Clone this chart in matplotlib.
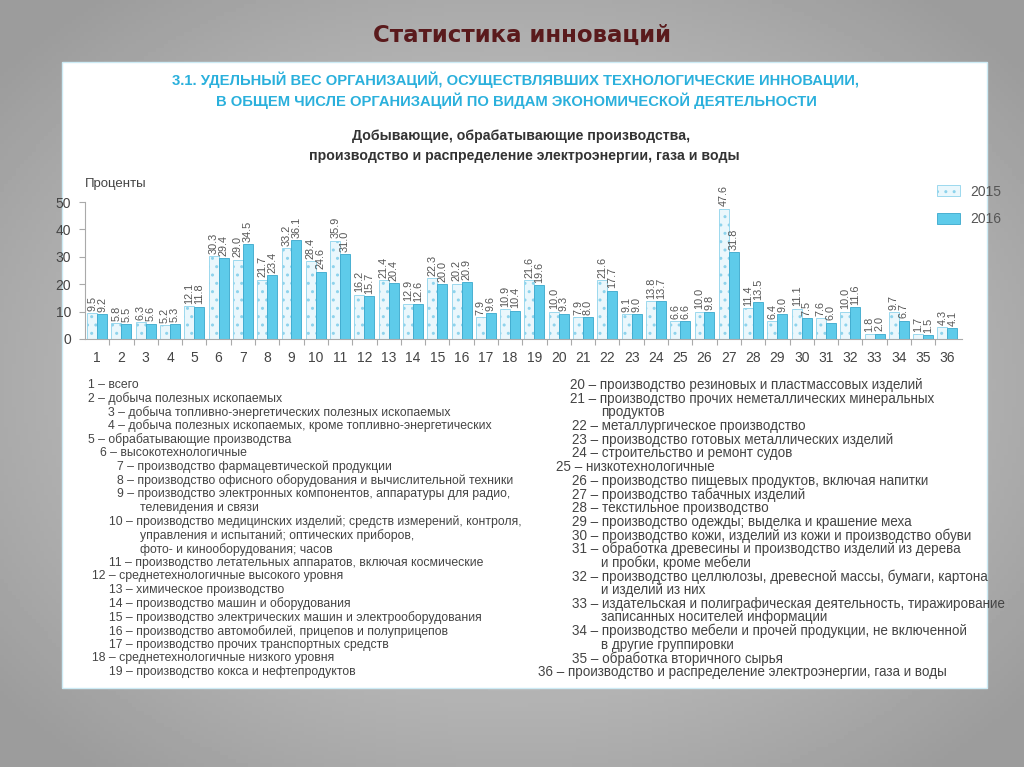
import numpy as np
import matplotlib
matplotlib.use('Agg')
import matplotlib.pyplot as plt
from matplotlib.patches import Rectangle

# data
categories = [str(i) for i in range(1, 37)]
share_2015 = [9.5, 5.8, 6.3, 5.2, 12.1, 30.3, 29.0, 21.7, 33.2, 28.4, 35.9, 16.2,
              21.4, 12.9, 22.3, 20.2, 7.9, 10.9, 21.6, 10.0, 7.9, 21.6, 9.1, 13.8,
              6.6, 10.0, 47.6, 11.4, 6.4, 11.1, 7.6, 10.0, 1.8, 9.7, 1.7, 4.3]
share_2016 = [9.2, 5.5, 5.6, 5.3, 11.8, 29.4, 34.5, 23.4, 36.1, 24.6, 31.0, 15.7,
              20.4, 12.6, 20.0, 20.9, 9.6, 10.4, 19.6, 9.3, 8.0, 17.7, 9.0, 13.7,
              6.6, 9.8, 31.8, 13.5, 9.0, 7.5, 6.0, 11.6, 2.0, 6.7, 1.5, 4.1]
series_labels = ['2015', '2016']

left_notes = [
    (88, "1 – всего"),
    (88, "2 – добыча полезных ископаемых"),
    (108, "3 – добыча топливно-энергетических полезных ископаемых"),
    (108, "4 – добыча полезных ископаемых, кроме топливно-энергетических"),
    (88, "5 – обрабатывающие производства"),
    (100, "6 – высокотехнологичные"),
    (117, "7 – производство фармацевтической продукции"),
    (117, "8 – производство офисного оборудования и вычислительной техники"),
    (117, "9 – производство электронных компонентов, аппаратуры для радио,"),
    (140, "телевидения и связи"),
    (109, "10 – производство медицинских изделий; средств измерений, контроля,"),
    (140, "управления и испытаний; оптических приборов,"),
    (140, "фото- и кинооборудования; часов"),
    (109, "11 – производство летательных аппаратов, включая космические"),
    (92, "12 – среднетехнологичные высокого уровня"),
    (109, "13 – химическое производство"),
    (109, "14 – производство машин и оборудования"),
    (109, "15 – производство электрических машин и электрооборудования"),
    (109, "16 – производство автомобилей, прицепов и полуприцепов"),
    (109, "17 – производство прочих транспортных средств"),
    (92, "18 – среднетехнологичные низкого уровня"),
    (109, "19 – производство кокса и нефтепродуктов"),
]
right_notes = [
    (570, "20 – производство резиновых и пластмассовых изделий"),
    (570, "21 – производство прочих неметаллических минеральных"),
    (601, "продуктов"),
    (572, "22 – металлургическое производство"),
    (572, "23 – производство готовых металлических изделий"),
    (572, "24 – строительство и ремонт судов"),
    (556, "25 – низкотехнологичные"),
    (572, "26 – производство пищевых продуктов, включая напитки"),
    (572, "27 – производство табачных изделий"),
    (572, "28 – текстильное производство"),
    (572, "29 – производство одежды; выделка и крашение меха"),
    (572, "30 – производство кожи, изделий из кожи и производство обуви"),
    (572, "31 – обработка древесины и производство изделий из дерева"),
    (601, "и пробки, кроме мебели"),
    (572, "32 – производство целлюлозы, древесной массы, бумаги, картона"),
    (601, "и изделий из них"),
    (572, "33 – издательская и полиграфическая деятельность, тиражирование"),
    (601, "записанных носителей информации"),
    (572, "34 – производство мебели и прочей продукции, не включенной"),
    (601, "в другие группировки"),
    (572, "35 – обработка вторичного сырья"),
    (538, "36 – производство и распределение электроэнергии, газа и воды"),
]

FONT = 'Liberation Sans'

W, H = 1024, 767
fig = plt.figure(figsize=(W / 100, H / 100), dpi=100)

def fx(px):
    return px / W

def fy(py):
    return 1 - py / H

# slide background: grey radial gradient
bg = fig.add_axes([0, 0, 1, 1])
yy, xx = np.mgrid[0:H:4, 0:W:4]
r = np.sqrt(((xx - W / 2) / (W / 2)) ** 2 + ((yy - H / 2) / (H / 2)) ** 2)
bg.imshow(0.86 - 0.25 * np.clip(r / 1.3, 0, 1), cmap='gray', vmin=0, vmax=1,
          extent=[0, 1, 0, 1], aspect='auto')
bg.set_axis_off()
bg.set_zorder(-10)

# white panel
fig.patches.append(Rectangle((fx(62), fy(688)), fx(987 - 62), (688 - 62) / H,
                             transform=fig.transFigure, facecolor='white',
                             edgecolor='#cdebf5', linewidth=1, zorder=-5))

fig.text(0.51, fy(35), 'Статистика инноваций', ha='center', va='center',
         fontsize=16.5, fontweight='bold', color='#5a1a1c', family='DejaVu Sans')

title_kw = dict(ha='center', va='center', fontsize=10.6, fontweight='bold',
                color='#2ab0dc', family=FONT)
fig.text(fx(516), fy(80), '3.1. УДЕЛЬНЫЙ ВЕС ОРГАНИЗАЦИЙ, ОСУЩЕСТВЛЯВШИХ ТЕХНОЛОГИЧЕСКИЕ ИННОВАЦИИ,', **title_kw)
fig.text(fx(516), fy(101), 'В ОБЩЕМ ЧИСЛЕ ОРГАНИЗАЦИЙ ПО ВИДАМ ЭКОНОМИЧЕСКОЙ ДЕЯТЕЛЬНОСТИ', **title_kw)
sub_kw = dict(ha='center', va='center', fontsize=10.2, fontweight='bold',
              color='#333333', family=FONT)
fig.text(fx(521), fy(136), 'Добывающие, обрабатывающие производства,', **sub_kw)
fig.text(fx(524), fy(156), 'производство и распределение электроэнергии, газа и воды', **sub_kw)
fig.text(fx(116), fy(184), 'Проценты', ha='center', va='center', fontsize=9.5,
         color='#444444', family=FONT)

# chart
ax = fig.add_axes([fx(85), fy(339), fx(962 - 85), (339 - 202) / H])
x = np.arange(1, len(categories) + 1)
bw = 0.41
b1 = ax.bar(x - bw / 2, share_2015, bw, facecolor='#eaf7fc', edgecolor='#8ed3ec',
            hatch='..', linewidth=0.6, label=series_labels[0])
b2 = ax.bar(x + bw / 2, share_2016, bw, facecolor='#5ecbea', edgecolor='#3aa8cc',
            linewidth=0.6, label=series_labels[1])
for bars, vals in ((b1, share_2015), (b2, share_2016)):
    for rect, v in zip(bars, vals):
        ax.text(rect.get_x() + rect.get_width() / 2, v + 0.8, f'{v:.1f}',
                rotation=90, ha='center', va='bottom', fontsize=7.8,
                color='#555555', family=FONT, clip_on=False)

ax.set_xlim(0.5, 36.6)
ax.set_ylim(0, 50)
ax.set_yticks(range(0, 51, 10))
ax.set_xticks(x)
ax.set_xticklabels(categories)
ax.set_xticks(np.arange(1.5, 36.5, 1), minor=True)
ax.tick_params(axis='x', which='major', length=0, pad=9, labelsize=10, labelcolor='#444444')
ax.tick_params(axis='x', which='minor', length=4, color='#aaaaaa', width=0.8)
ax.tick_params(axis='y', length=4, color='#aaaaaa', labelsize=10, labelcolor='#444444', pad=6)
for lbl in ax.get_xticklabels() + ax.get_yticklabels():
    lbl.set_family(FONT)
for side in ('top', 'right'):
    ax.spines[side].set_visible(False)
for side in ('left', 'bottom'):
    ax.spines[side].set_color('#aaaaaa')
    ax.spines[side].set_linewidth(0.8)
ax.patch.set_alpha(0)

fig.legend(handles=[b1, b2], loc='upper left', bbox_to_anchor=(fx(924), fy(172)),
           frameon=False, handlelength=1.7, handleheight=0.9,
           labelspacing=1.0, handletextpad=0.7, labelcolor='#555555',
           prop={'family': FONT, 'size': 10})

# notes below the chart
for i, (px, txt) in enumerate(left_notes):
    fig.text(fx(px), fy(385 + i * 13.67), txt, ha='left', va='center',
             fontsize=8.8, color='#444444', family=FONT)
for i, (px, txt) in enumerate(right_notes):
    fig.text(fx(px), fy(385 + i * 13.67), txt, ha='left', va='center',
             fontsize=9.75, color='#444444', family=FONT)

fig.savefig('out.png', dpi=100)
